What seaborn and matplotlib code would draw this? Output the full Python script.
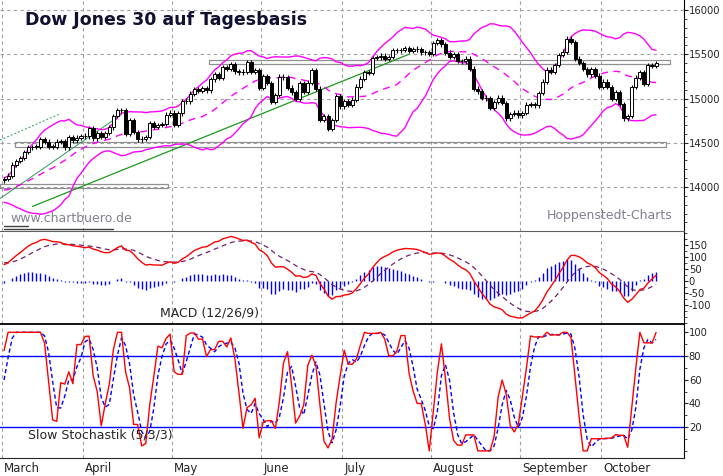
import numpy as np
import pandas as pd
import matplotlib
matplotlib.use("Agg")
import matplotlib.pyplot as plt
import seaborn as sns

plt.rcParams["font.family"] = "Liberation Sans"
sns.set_style("white")

# ---- data: estimated daily closes (DJIA 2013) ----
pre_jan = [13412, 13391, 13436, 13435, 13384, 13328, 13390, 13471, 13488, 13507, 13534,
           13511, 13596, 13649, 13712, 13779, 13825, 13895, 13882, 13954, 13910, 13860]
pre_feb = [14010, 13880, 13979, 13944, 13986, 13944, 13993, 13971, 14018, 13982, 13973,
           14035, 13928, 13927, 13881, 14000, 13784, 13900, 14075]
mar = [14090, 14128, 14254, 14296, 14329, 14397, 14447, 14450, 14455, 14539, 14514, 14452,
       14455, 14512, 14519, 14447, 14560, 14526, 14559, 14578]
apr = [14573, 14662, 14550, 14606, 14565, 14613, 14673, 14802, 14865, 14865, 14599, 14757,
       14619, 14537, 14548, 14567, 14719, 14676, 14700, 14712, 14818, 14840]
may = [14700, 14831, 14973, 14968, 15056, 15106, 15082, 15118, 15091, 15215, 15275, 15233,
       15355, 15335, 15388, 15307, 15294, 15303, 15409, 15302, 15324, 15116]
jun = [15254, 15177, 14960, 15041, 15248, 15239, 15122, 15070, 14995, 15176, 15071, 15179,
       15318, 15112, 14758, 14800, 14660, 14760, 15025, 14910]
jul = [14975, 14932, 14988, 15135, 15225, 15300, 15291, 15460, 15464, 15484, 15451, 15470,
       15548, 15543, 15545, 15567, 15542, 15555, 15559, 15521, 15520, 15500]
aug = [15628, 15658, 15612, 15519, 15471, 15498, 15425, 15419, 15451, 15337, 15112, 15081,
       15010, 15002, 14897, 14963, 15010, 14946, 14776, 14824, 14840, 14810]
sep = [14834, 14930, 14937, 14922, 15063, 15191, 15327, 15300, 15376, 15494, 15529, 15676,
       15636, 15452, 15401, 15334, 15273, 15328, 15258, 15130]
oct_ = [15191, 15133, 14996, 15073, 14936, 14776, 14803, 15127, 15237, 15301, 15168, 15373,
        15372, 15399]
month_labels = ["March", "April", "May", "June", "July", "August", "September", "October"]
shown_months = [mar, apr, may, jun, jul, aug, sep, oct_]

# annotation boxes (price zones) and trend lines: (x0, x1, y0, y1)
zones = [(-1, 40.5, 13990, 14030), (2.7, 163.5, 14450, 14510), (50.5, 164.5, 15385, 15440)]
trend_solid = [(7, 100, 13780, 15500)]
trend_thin = [(-1, 29, 13870, 14820)]
trend_dotted = [(-1, 14, 14530, 14830)]

# ---- indicators ----
close_all = pd.Series(pre_jan + pre_feb + sum(shown_months, []), dtype=float)
n_pre = len(pre_jan) + len(pre_feb)
open_all = close_all.shift(1).fillna(close_all)
sma = close_all.rolling(20, min_periods=1).mean()
sd = close_all.rolling(20, min_periods=2).std(ddof=0).fillna(0)
upper, lower = sma + 2 * sd, sma - 2 * sd
ema12 = close_all.ewm(span=12, adjust=False).mean()
ema26 = close_all.ewm(span=26, adjust=False).mean()
macd = ema12 - ema26
signal = macd.ewm(span=9, adjust=False).mean()
hist = macd - signal
hh = close_all.rolling(5, min_periods=1).max()
ll = close_all.rolling(5, min_periods=1).min()
rawk = 100 * (close_all - ll) / (hh - ll).replace(0, np.nan)
slowk = rawk.rolling(3, min_periods=1).mean().fillna(50)
slowd = slowk.rolling(3, min_periods=1).mean()

df = pd.DataFrame({"close": close_all, "open": open_all, "sma": sma, "upper": upper,
                   "lower": lower, "macd": macd, "signal": signal, "hist": hist,
                   "k": slowk, "d": slowd}).iloc[n_pre:].reset_index(drop=True)
df["x"] = np.arange(len(df))
month_starts = np.cumsum([0] + [len(m) for m in shown_months[:-1]])

# ---- figure ----
fig = plt.figure(figsize=(7.23, 4.76), dpi=100)
AXR = 684
L, W = 0.0, AXR / 723
ax1 = fig.add_axes([L, 1 - 231 / 476, W, 231 / 476])
ax2 = fig.add_axes([L, 1 - 324 / 476, W, 93 / 476], sharex=ax1)
ax3 = fig.add_axes([L, 1 - 458 / 476, W, 134 / 476], sharex=ax1)
xlim = (-1, 167.9)

for ax in (ax1, ax2, ax3):
    ax.yaxis.tick_right()
    for s in ("top", "left", "bottom"):
        ax.spines[s].set_visible(False)
    ax.spines["right"].set_color("black")
    for ms in month_starts:
        ax.axvline(ms - 0.5, color="#a0a0a0", ls=(0, (3, 3)), lw=0.8, zorder=0)
    ax.tick_params(axis="y", labelsize=7.2, length=3, direction="out", pad=0.5)

# main panel
ax1.set_ylim(13503, 16113)
ax1.set_yticks([14000, 14500, 15000, 15500, 16000])
ax1.set_yticks(np.arange(13600, 16100, 100), minor=True)
ax1.tick_params(axis="y", which="minor", length=2, direction="out")
for yv in [14000, 14500, 15000, 15500, 16000]:
    ax1.axhline(yv, color="#a0a0a0", ls=(0, (3, 3)), lw=0.8, zorder=0)
for x0, x1, y0, y1 in zones:
    ax1.add_patch(plt.Rectangle((x0, y0), x1 - x0, y1 - y0, fill=False, ec="#909090", lw=0.9, zorder=1))
for x0, x1, y0, y1 in trend_solid:
    ax1.plot([x0, x1], [y0, y1], color="#1a9a1a", lw=0.9, zorder=2)
for x0, x1, y0, y1 in trend_thin:
    ax1.plot([x0, x1], [y0, y1], color="#2e9a5a", lw=0.7, zorder=2)
for x0, x1, y0, y1 in trend_dotted:
    ax1.plot([x0, x1], [y0, y1], color="#2e9a5a", lw=0.7, ls=(0, (2, 2)), zorder=2)
sns.lineplot(data=df, x="x", y="upper", ax=ax1, color="magenta", lw=1.0, zorder=3)
sns.lineplot(data=df, x="x", y="lower", ax=ax1, color="magenta", lw=1.0, zorder=3)
sns.lineplot(data=df, x="x", y="sma", ax=ax1, color="magenta", lw=1.0, ls=(0, (5, 4)), zorder=3)
up = df["close"] >= df["open"]
body = (df["close"] - df["open"]).abs().clip(lower=8)
bottom = np.minimum(df["close"], df["open"])
ax1.vlines(df["x"], bottom - 25, bottom + body + 25, color="black", lw=0.8, zorder=4)
ax1.bar(df["x"], body, bottom=bottom, width=0.75,
        color=np.where(up, "white", "black"), edgecolor="black", lw=0.7, zorder=5)
ax1.text(25 / AXR, 1 - 20 / 231, "Dow Jones 30 auf Tagesbasis", transform=ax1.transAxes,
         fontsize=12.5, fontweight="bold", va="center", color="#101030")
ax1.text(10 / AXR, 1 - 218 / 231, "www.chartbuero.de", transform=ax1.transAxes,
         fontsize=9, color="#808090", va="center")
ax1.text(673 / AXR, 1 - 215 / 231, "Hoppenstedt-Charts", transform=ax1.transAxes,
         fontsize=9, color="#808090", va="center", ha="right")
ax1.plot([0, 27], [13525, 13525], color="#404040", lw=1.0)
ax1.plot([0, 6], [13565, 13565], color="#404040", lw=1.0)

# MACD
ax2.set_ylim(-179, 208)
ax2.set_yticks([150, 100, 50, 0, -50, -100])
ax2.set_yticklabels(["150", "100", "50", "0", "-50", "-100"])
ax2.set_yticks(np.arange(-175, 201, 25), minor=True)
ax2.tick_params(axis="y", which="minor", length=2, direction="out")
ax2.spines["top"].set_visible(True); ax2.spines["top"].set_color("#606060")
ax2.vlines(df["x"], 0, df["hist"], color="blue", lw=1.0)
sns.lineplot(data=df, x="x", y="signal", ax=ax2, color="#702070", lw=0.9, ls=(0, (4, 3)))
sns.lineplot(data=df, x="x", y="macd", ax=ax2, color="red", lw=1.0)
ax2.text(160 / AXR, 1 - 82 / 93, "MACD (12/26/9)", transform=ax2.transAxes, fontsize=9, va="center")

# Stochastic
ax3.set_ylim(-6, 107)
ax3.set_yticks([100, 80, 60, 40, 20])
ax3.set_yticks(np.arange(0, 101, 10), minor=True)
ax3.tick_params(axis="y", which="minor", length=2, direction="out")
ax3.spines["top"].set_visible(True); ax3.spines["top"].set_color("black"); ax3.spines["top"].set_linewidth(1.3)
ax3.spines["bottom"].set_visible(True)
ax3.axhline(80, color="blue", lw=1.0); ax3.axhline(20, color="blue", lw=1.0)
sns.lineplot(data=df, x="x", y="d", ax=ax3, color="blue", lw=1.0, ls=(0, (3, 2)))
sns.lineplot(data=df, x="x", y="k", ax=ax3, color="red", lw=1.0)
ax3.text(28 / AXR, 1 - 111 / 134, "Slow Stochastik (5/3/3)", transform=ax3.transAxes, fontsize=9, va="center")

ax3.set_xlim(*xlim)
ax3.set_xticks(month_starts - 0.5)
ax3.set_xticklabels(month_labels, ha="left", fontsize=8.5)
ax3.set_xticks(np.arange(-0.5, 167, 5), minor=True)
ax3.tick_params(axis="x", which="major", length=16, direction="out", pad=-13)
ax3.tick_params(axis="x", which="minor", length=4, direction="out")
for lab in ax3.get_xticklabels():
    lab.set_transform(lab.get_transform() + matplotlib.transforms.ScaledTranslation(2 / 100, 0, fig.dpi_scale_trans))
plt.setp(ax1.get_xticklabels(), visible=False); plt.setp(ax2.get_xticklabels(), visible=False)
ax1.tick_params(axis="x", length=0); ax2.tick_params(axis="x", length=0)
for ax in (ax1, ax2, ax3):
    ax.set_xlabel(""); ax.set_ylabel("")
    if ax.get_legend():
        ax.get_legend().remove()

fig.savefig("out.png", dpi=100)
